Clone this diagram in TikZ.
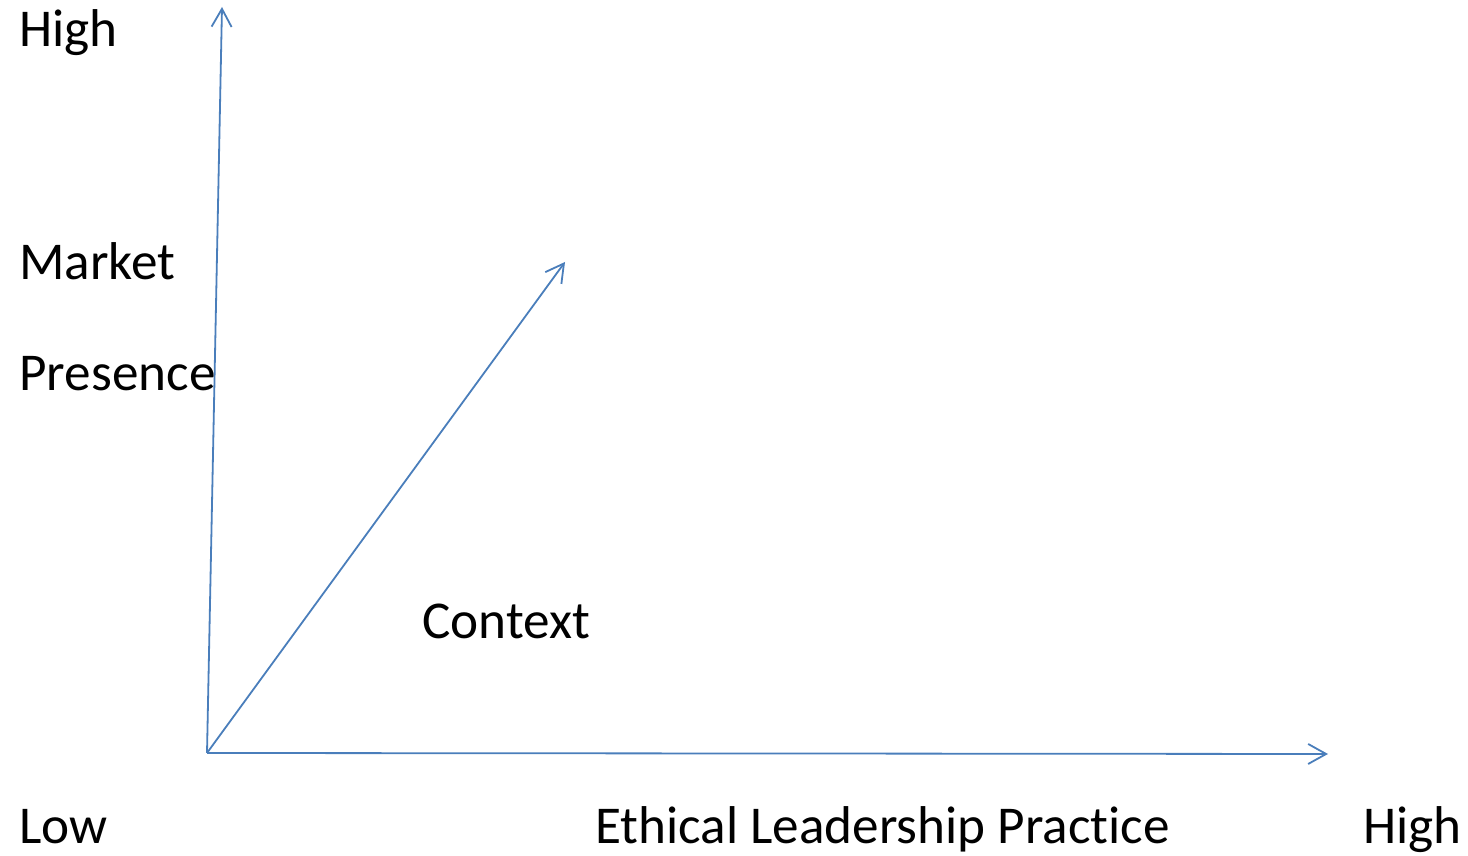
\documentclass[tikz,border=0pt]{standalone}
\usepackage{fontspec}
\setmainfont{Carlito}[Ligatures=NoCommon]
\usetikzlibrary{arrows.meta}
\definecolor{axisblue}{RGB}{74,126,187}

\begin{document}
\begin{tikzpicture}[x=0.5pt,y=0.5pt,
    axis/.style={draw=axisblue, line width=0.9pt, -{Straight Barb[length=9pt,width=10pt,line width=0.9pt]}},
    lbl/.style={anchor=base west, inner sep=0pt, font=\fontsize{26.6}{32}\selectfont}]
    \useasboundingbox (0,0) rectangle (1468,856);

    % Axis points
    \coordinate (origin) at (207,103);
    \coordinate (ytop) at (222,849);
    \coordinate (xend) at (1328,102);
    \coordinate (ctxend) at (565,594);

    % Axis
    \draw[axis] (origin) -- (ytop);
    \draw[axis] (origin) -- (xend);
    \draw[axis] (origin) -- (ctxend);

    % Labels
    \node[lbl] (yhigh) at (19,809) {High};
    \node[lbl] (ymarket) at (19,576) {Market};
    \node[lbl] (ypresence) at (19,465) {Presence};
    \node[lbl] (context) at (422,217) {Context};
    \node[lbl] (xlow) at (19,12) {Low};
    \node[lbl] (xname) at (595,12) {Ethical Leadership Practice};
    \node[lbl] (xhigh) at (1363,12) {High};

\end{tikzpicture}
\end{document}
